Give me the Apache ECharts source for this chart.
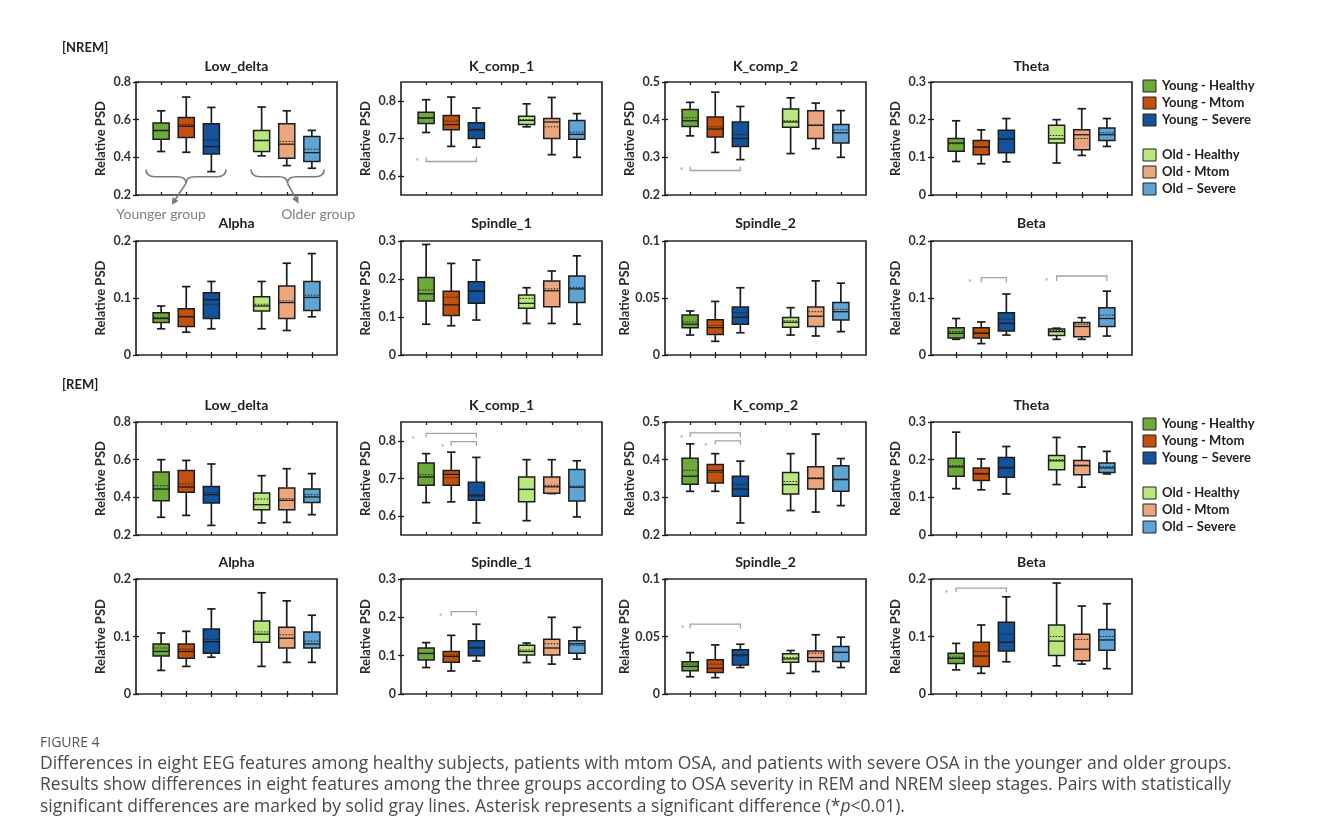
<!DOCTYPE html>
<html><head><meta charset="utf-8">
<script src="https://cdn.jsdelivr.net/npm/echarts@6/dist/echarts.min.js"></script>
<style>html,body{margin:0;padding:0;background:#fff}#c{width:1330px;height:839px}</style>
</head><body><div id="c"></div><script>
// ---------------- data ----------------
const groupNames = ['Young - Healthy', 'Young - Mtom', 'Young \u2013 Severe', 'Old - Healthy', 'Old - Mtom', 'Old \u2013 Severe'];
const groupX = [1, 2, 3, 5, 6, 7];
const featureTitles = ['Low_delta', 'K_comp_1', 'K_comp_2', 'Theta', 'Alpha', 'Spindle_1', 'Spindle_2', 'Beta'];
const yRanges = [[0.2, 0.8], [0.55, 0.85], [0.2, 0.5], [0, 0.3], [0, 0.2], [0, 0.3], [0, 0.1], [0, 0.2]];
const yTicks = [[0.2, 0.4, 0.6, 0.8], [0.6, 0.7, 0.8], [0.2, 0.3, 0.4, 0.5], [0, 0.1, 0.2, 0.3], [0, 0.1, 0.2], [0, 0.1, 0.2, 0.3], [0, 0.05, 0.1], [0, 0.1, 0.2]];

// each row: [whisker min, Q1, median, Q3, whisker max, mean]  (groups in groupNames order)
const nremLowDelta = [[0.431,0.496,0.543,0.582,0.647,0.540],[0.427,0.505,0.565,0.612,0.720,0.575],[0.324,0.418,0.457,0.578,0.665,0.493],[0.408,0.431,0.489,0.543,0.667,0.492],[0.356,0.395,0.470,0.578,0.647,0.484],[0.342,0.378,0.425,0.511,0.543,0.443]];
const nremKcomp1 = [[0.716,0.740,0.755,0.770,0.803,0.753],[0.679,0.723,0.737,0.761,0.810,0.746],[0.677,0.700,0.724,0.742,0.781,0.720],[0.731,0.737,0.748,0.759,0.792,0.750],[0.657,0.700,0.744,0.753,0.809,0.731],[0.650,0.698,0.711,0.748,0.766,0.717]];
const nremKcomp2 = [[0.357,0.382,0.397,0.427,0.446,0.405],[0.313,0.354,0.375,0.407,0.473,0.381],[0.294,0.329,0.350,0.394,0.435,0.360],[0.310,0.380,0.394,0.428,0.458,0.397],[0.323,0.350,0.385,0.424,0.444,0.386],[0.300,0.338,0.365,0.387,0.424,0.373]];
const nremTheta = [[0.089,0.116,0.138,0.150,0.197,0.136],[0.083,0.107,0.127,0.145,0.173,0.128],[0.088,0.112,0.149,0.172,0.203,0.148],[0.085,0.138,0.149,0.185,0.200,0.158],[0.105,0.120,0.160,0.173,0.229,0.150],[0.129,0.145,0.160,0.178,0.203,0.165]];
const nremAlpha = [[0.046,0.057,0.064,0.074,0.086,0.066],[0.040,0.050,0.067,0.081,0.120,0.068],[0.046,0.064,0.097,0.109,0.129,0.089],[0.046,0.077,0.086,0.102,0.129,0.089],[0.043,0.064,0.092,0.121,0.161,0.095],[0.067,0.078,0.101,0.129,0.178,0.105]];
const nremSpindle1 = [[0.081,0.142,0.161,0.204,0.291,0.171],[0.077,0.104,0.132,0.168,0.241,0.152],[0.092,0.136,0.168,0.193,0.250,0.170],[0.083,0.123,0.136,0.158,0.177,0.149],[0.083,0.127,0.169,0.195,0.221,0.174],[0.081,0.138,0.174,0.208,0.261,0.178]];
const nremSpindle2 = [[0.0175,0.024,0.027,0.035,0.0386,0.029],[0.012,0.018,0.024,0.031,0.047,0.026],[0.0195,0.027,0.033,0.042,0.059,0.037],[0.0175,0.0243,0.0287,0.033,0.0415,0.030],[0.0167,0.025,0.034,0.042,0.065,0.038],[0.0205,0.0307,0.038,0.046,0.063,0.040]];
const nremBeta = [[0.0275,0.030,0.038,0.048,0.064,0.041],[0.020,0.030,0.038,0.048,0.058,0.040],[0.035,0.042,0.0556,0.074,0.107,0.063],[0.0275,0.034,0.041,0.0456,0.047,0.043],[0.0275,0.032,0.050,0.057,0.0655,0.054],[0.0333,0.050,0.064,0.083,0.112,0.070]];
const remLowDelta = [[0.294,0.382,0.444,0.535,0.600,0.462],[0.304,0.427,0.455,0.543,0.596,0.471],[0.251,0.370,0.414,0.458,0.577,0.425],[0.264,0.334,0.361,0.423,0.515,0.391],[0.267,0.334,0.384,0.450,0.552,0.393],[0.308,0.373,0.402,0.444,0.526,0.414]];
const remKcomp1 = [[0.636,0.682,0.704,0.741,0.766,0.710],[0.638,0.682,0.711,0.721,0.770,0.702],[0.582,0.642,0.654,0.690,0.756,0.658],[0.588,0.638,0.671,0.704,0.750,0.672],[0.660,0.661,0.678,0.704,0.750,0.682],[0.598,0.640,0.677,0.724,0.747,0.680]];
const remKcomp2 = [[0.316,0.335,0.356,0.404,0.442,0.372],[0.316,0.338,0.371,0.387,0.416,0.366],[0.232,0.303,0.322,0.356,0.396,0.334],[0.265,0.309,0.334,0.366,0.416,0.342],[0.261,0.322,0.350,0.381,0.468,0.352],[0.278,0.316,0.347,0.384,0.403,0.349]];
const remTheta = [[0.123,0.156,0.181,0.204,0.273,0.184],[0.120,0.145,0.162,0.178,0.202,0.164],[0.109,0.153,0.178,0.206,0.235,0.180],[0.134,0.173,0.197,0.211,0.259,0.200],[0.127,0.160,0.184,0.198,0.234,0.186],[0.162,0.166,0.178,0.191,0.222,0.182]];
const remAlpha = [[0.041,0.066,0.074,0.087,0.106,0.080],[0.048,0.062,0.074,0.087,0.109,0.078],[0.064,0.071,0.091,0.113,0.148,0.095],[0.048,0.090,0.104,0.127,0.176,0.108],[0.055,0.080,0.097,0.116,0.162,0.103],[0.055,0.080,0.087,0.108,0.137,0.092]];
const remSpindle1 = [[0.069,0.089,0.106,0.120,0.134,0.105],[0.060,0.083,0.098,0.111,0.153,0.102],[0.086,0.100,0.120,0.139,0.182,0.122],[0.082,0.102,0.111,0.127,0.133,0.115],[0.078,0.102,0.120,0.143,0.200,0.131],[0.091,0.106,0.131,0.139,0.174,0.127]];
const remSpindle2 = [[0.015,0.0203,0.024,0.028,0.036,0.026],[0.0142,0.0186,0.0224,0.0297,0.0427,0.026],[0.023,0.0253,0.034,0.0384,0.0433,0.033],[0.018,0.0276,0.0305,0.0349,0.0378,0.0317],[0.0195,0.0282,0.0317,0.0375,0.0515,0.0355],[0.023,0.0282,0.0363,0.0413,0.0494,0.036]];
const remBeta = [[0.042,0.053,0.062,0.071,0.088,0.064],[0.036,0.048,0.066,0.090,0.120,0.074],[0.056,0.075,0.090,0.125,0.169,0.104],[0.049,0.067,0.092,0.120,0.193,0.100],[0.052,0.058,0.078,0.104,0.153,0.095],[0.044,0.076,0.094,0.112,0.157,0.100]];

// significance brackets: [from x, to x, line value, end value, asterisk x, asterisk value]
const nremKcomp1Sig = [[1, 3, 0.639, 0.650, 0.64, 0.644]];
const nremKcomp2Sig = [[1, 3, 0.265, 0.275, 0.66, 0.269]];
const nremBetaSig = [[2, 3, 0.1357, 0.127, 1.56, 0.130], [5, 7, 0.1386, 0.130, 4.6, 0.132]];
const remKcomp1Sig = [[1, 3, 0.820, 0.809, 0.48, 0.809], [2, 3, 0.798, 0.787, 1.66, 0.788]];
const remKcomp2Sig = [[1, 3, 0.471, 0.460, 0.66, 0.462], [2, 3, 0.450, 0.440, 1.63, 0.440]];
const remSpindle1Sig = [[2, 3, 0.215, 0.204, 1.59, 0.207]];
const remSpindle2Sig = [[1, 3, 0.0608, 0.057, 0.70, 0.0587]];
const remBetaSig = [[1, 3, 0.184, 0.177, 0.62, 0.178]];

const braceLabels = ['Younger group', 'Older group'];

// ---------------- layout / style ----------------
const colors = ['#6DAA3A', '#C2510F', '#14539A', '#B9E77B', '#EBA67D', '#5EA5D5'];
const colLeft = [136, 401, 665, 931];
const rowTop = [82, 241, 422, 579];
const rowH = [113, 114, 113, 115];
const gridW = 201;
const FONT = 'Lato, "Open Sans", sans-serif';
const INK = '#1c1c1c';
const SIG = '#a3a3a3';

const panelsData = [nremLowDelta, nremKcomp1, nremKcomp2, nremTheta, nremAlpha, nremSpindle1, nremSpindle2, nremBeta,
  remLowDelta, remKcomp1, remKcomp2, remTheta, remAlpha, remSpindle1, remSpindle2, remBeta];
const panelSig = [[], nremKcomp1Sig, nremKcomp2Sig, [], [], [], [], nremBetaSig,
  [], remKcomp1Sig, remKcomp2Sig, [], [], remSpindle1Sig, remSpindle2Sig, remBetaSig];

function renderBox(params, api) {
  const x = api.value(0);
  const Y = v => api.coord([x, v])[1];
  const cx = api.coord([x, api.value(3)])[0];
  const yLo = Y(api.value(1)), yQ1 = Y(api.value(2)), yMed = Y(api.value(3)), yQ3 = Y(api.value(4)), yHi = Y(api.value(5)), yMean = Y(api.value(6));
  const g = api.value(7);
  const bw = api.size([1, 0])[0] * 0.64;
  const cw = bw * 0.52;
  const ls = { stroke: INK, lineWidth: 1.7 };
  return {
    type: 'group', children: [
      { type: 'line', shape: { x1: cx, y1: yHi, x2: cx, y2: yQ3 }, style: ls },
      { type: 'line', shape: { x1: cx, y1: yQ1, x2: cx, y2: yLo }, style: ls },
      { type: 'line', shape: { x1: cx - cw / 2, y1: yHi, x2: cx + cw / 2, y2: yHi }, style: ls },
      { type: 'line', shape: { x1: cx - cw / 2, y1: yLo, x2: cx + cw / 2, y2: yLo }, style: ls },
      { type: 'rect', shape: { x: cx - bw / 2, y: yQ3, width: bw, height: yQ1 - yQ3 }, style: { fill: colors[g], stroke: INK, lineWidth: 1.5 } },
      { type: 'line', shape: { x1: cx - bw / 2 + 1, y1: yMean, x2: cx + bw / 2 - 1, y2: yMean }, style: { stroke: INK, lineWidth: 1, lineDash: [1.5, 1.5] } },
      { type: 'line', shape: { x1: cx - bw / 2, y1: yMed, x2: cx + bw / 2, y2: yMed }, style: { stroke: INK, lineWidth: 1.3 } }
    ]
  };
}

function renderSig(params, api) {
  const x1 = api.value(0), x2 = api.value(1), yl = api.value(2), ye = api.value(3);
  const p1 = api.coord([x1, ye]), p2 = api.coord([x1, yl]), p3 = api.coord([x2, yl]), p4 = api.coord([x2, ye]);
  const s = api.coord([api.value(4), api.value(5)]);
  return {
    type: 'group', children: [
      { type: 'polyline', shape: { points: [p1, p2, p3, p4] }, style: { stroke: SIG, lineWidth: 1.3, fill: null } },
      { type: 'text', x: s[0], y: s[1] + 2, style: { text: '*', fill: SIG, fontSize: 10, fontFamily: FONT, align: 'center', verticalAlign: 'middle' } }
    ]
  };
}

// brace geometry in data coordinates of the first panel
const braceSpecs = [
  { x0: 0.40, x1: 3.58, xm: 1.99, yTop: 0.335, yBase: 0.297, yCusp: 0.262, ax: 1.42, ay: 0.148, lx: 1.0, ly: 0.099 },
  { x0: 4.58, x1: 7.49, xm: 6.03, yTop: 0.335, yBase: 0.297, yCusp: 0.262, ax: 6.47, ay: 0.155, lx: 7.25, ly: 0.099 }
];
function renderBrace(params, api) {
  const i = params.dataIndex;
  const s = braceSpecs[i];
  const P = (x, y) => api.coord([x, y]);
  const a = P(s.x0, s.yTop), k1 = P(s.x0, s.yBase), b = P(s.x0 + 0.35, s.yBase), c = P(s.xm - 0.35, s.yBase);
  const k2 = P(s.xm, s.yBase), m = P(s.xm, s.yCusp), d = P(s.xm + 0.35, s.yBase), e = P(s.x1 - 0.35, s.yBase);
  const k3 = P(s.x1, s.yBase), f = P(s.x1, s.yTop);
  const path = `M${a[0]} ${a[1]} Q${k1[0]} ${k1[1]} ${b[0]} ${b[1]} L${c[0]} ${c[1]} Q${k2[0]} ${k2[1]} ${m[0]} ${m[1]} Q${k2[0]} ${k2[1]} ${d[0]} ${d[1]} L${e[0]} ${e[1]} Q${k3[0]} ${k3[1]} ${f[0]} ${f[1]}`;
  const A = P(s.ax, s.ay);
  const dx = A[0] - m[0], dy = A[1] - m[1], L = Math.hypot(dx, dy), ux = dx / L, uy = dy / L;
  const hl = 7, hw = 3.5;
  const base = [A[0] - ux * hl, A[1] - uy * hl];
  const head = [A, [base[0] - uy * hw, base[1] + ux * hw], [base[0] + uy * hw, base[1] - ux * hw]];
  const T = P(s.lx, s.ly);
  return {
    type: 'group', children: [
      { type: 'path', shape: { pathData: path }, style: { stroke: '#7a7a7a', lineWidth: 1.6, fill: null } },
      { type: 'line', shape: { x1: m[0], y1: m[1], x2: base[0], y2: base[1] }, style: { stroke: '#7a7a7a', lineWidth: 1.6 } },
      { type: 'polygon', shape: { points: head }, style: { fill: '#7a7a7a' } },
      { type: 'text', x: T[0], y: T[1], style: { text: braceLabels[i], fill: '#7f7f7f', fontSize: 14, fontFamily: FONT, align: 'center', verticalAlign: 'middle' } }
    ]
  };
}

const grids = [], xAxes = [], yAxes = [], series = [], graphics = [];
const xTickVals = [1, 2, 3, 4, 5, 6, 7];
for (let p = 0; p < 16; p++) {
  const row = Math.floor(p / 4), col = p % 4, f = p % 8;
  grids.push({ left: colLeft[col], top: rowTop[row], width: gridW, height: rowH[row], show: true, borderColor: '#2a2a2a', borderWidth: 1.7, backgroundColor: '#fff', containLabel: false });
  const xt = { show: true, inside: true, length: 3, lineStyle: { color: INK, width: 1.3 }, customValues: xTickVals };
  xAxes.push({ gridIndex: p, type: 'value', min: 0, max: 8, position: 'bottom', axisLine: { show: false }, axisTick: xt, axisLabel: { show: false }, splitLine: { show: false } });
  xAxes.push({ gridIndex: p, type: 'value', min: 0, max: 8, position: 'top', axisLine: { show: false }, axisTick: xt, axisLabel: { show: false }, splitLine: { show: false } });
  const yt = { show: true, inside: true, length: 3, lineStyle: { color: INK, width: 1.3 }, customValues: yTicks[f] };
  yAxes.push({
    gridIndex: p, type: 'value', min: yRanges[f][0], max: yRanges[f][1], position: 'left',
    axisLine: { show: false }, axisTick: yt, splitLine: { show: false },
    axisLabel: { customValues: yTicks[f], margin: 5, fontSize: 12.5, fontWeight: 'bold', color: '#333', fontFamily: FONT },
    name: 'Relative PSD', nameLocation: 'middle', nameGap: 29,
    nameTextStyle: { fontSize: 13, fontWeight: 'bold', color: '#2a2a2a', fontFamily: FONT }
  });
  yAxes.push({ gridIndex: p, type: 'value', min: yRanges[f][0], max: yRanges[f][1], position: 'right', axisLine: { show: false }, axisTick: yt, axisLabel: { show: false }, splitLine: { show: false } });
  series.push({
    type: 'custom', xAxisIndex: 2 * p, yAxisIndex: 2 * p, silent: true, animation: false,
    data: panelsData[p].map((r, i) => [groupX[i], r[0], r[1], r[2], r[3], r[4], r[5], i]),
    renderItem: renderBox
  });
  if (panelSig[p].length) {
    series.push({ type: 'custom', xAxisIndex: 2 * p, yAxisIndex: 2 * p, silent: true, animation: false, data: panelSig[p], renderItem: renderSig });
  }
  const titleY = [66, 223, 405, 562][row];
  graphics.push({ type: 'text', x: colLeft[col] + gridW / 2, y: titleY, style: { text: featureTitles[f], fontSize: 14, fontWeight: 'bold', fill: '#222', fontFamily: FONT, align: 'center', verticalAlign: 'middle' } });
}
series.push({ type: 'custom', xAxisIndex: 0, yAxisIndex: 0, silent: true, animation: false, clip: false, data: [[0, 0], [0, 0]], renderItem: renderBrace });

// section labels
graphics.push({ type: 'text', x: 62, y: 48, style: { text: '[NREM]', fontSize: 13, fontWeight: 'bold', fill: '#222', fontFamily: FONT, align: 'left', verticalAlign: 'middle' } });
graphics.push({ type: 'text', x: 62, y: 385, style: { text: '[REM]', fontSize: 13, fontWeight: 'bold', fill: '#222', fontFamily: FONT, align: 'left', verticalAlign: 'middle' } });

// legends
const legendRows = [[86, 103, 120, 155, 172, 189], [424, 441, 458, 493, 510, 527]];
legendRows.forEach(ys => ys.forEach((y, i) => {
  graphics.push({ type: 'rect', shape: { x: 1143, y: y - 6, width: 13, height: 12 }, style: { fill: colors[i], stroke: '#222', lineWidth: 1 } });
  graphics.push({ type: 'text', x: 1162, y: y, style: { text: groupNames[i], fontSize: 13, fontWeight: 'bold', fill: '#222', fontFamily: FONT, align: 'left', verticalAlign: 'middle' } });
}));

// caption
const CAP = '"Open Sans", "Noto Sans", sans-serif';
graphics.push({ type: 'text', x: 40, y: 743, style: { text: 'FIGURE 4', fontSize: 14, fill: '#555', fontFamily: CAP, align: 'left', verticalAlign: 'middle' } });
const capLines = [
  'Differences in eight EEG features among healthy subjects, patients with mtom OSA, and patients with severe OSA in the younger and older groups.',
  'Results show differences in eight features among the three groups according to OSA severity in REM and NREM sleep stages. Pairs with statistically'
];
capLines.forEach((t, i) => graphics.push({ type: 'text', x: 40, y: 764 + i * 21.5, style: { text: t, fontSize: 17.5, fill: '#4a4a4a', fontFamily: CAP, align: 'left', verticalAlign: 'middle' } }));
graphics.push({ type: 'text', x: 40, y: 807, style: {
  text: '{n|significant differences are marked by solid gray lines. Asterisk represents a significant difference (*}{i|p}{n|<0.01).}',
  align: 'left', verticalAlign: 'middle',
  rich: { n: { fontSize: 17.5, fill: '#4a4a4a', fontFamily: CAP }, i: { fontSize: 17.5, fill: '#4a4a4a', fontFamily: CAP, fontStyle: 'italic' } }
} });

const chart = echarts.init(document.getElementById('c'), null, { renderer: 'canvas' });
chart.setOption({ animation: false, backgroundColor: '#fff', grid: grids, xAxis: xAxes, yAxis: yAxes, series: series, graphic: graphics });
</script></body></html>
